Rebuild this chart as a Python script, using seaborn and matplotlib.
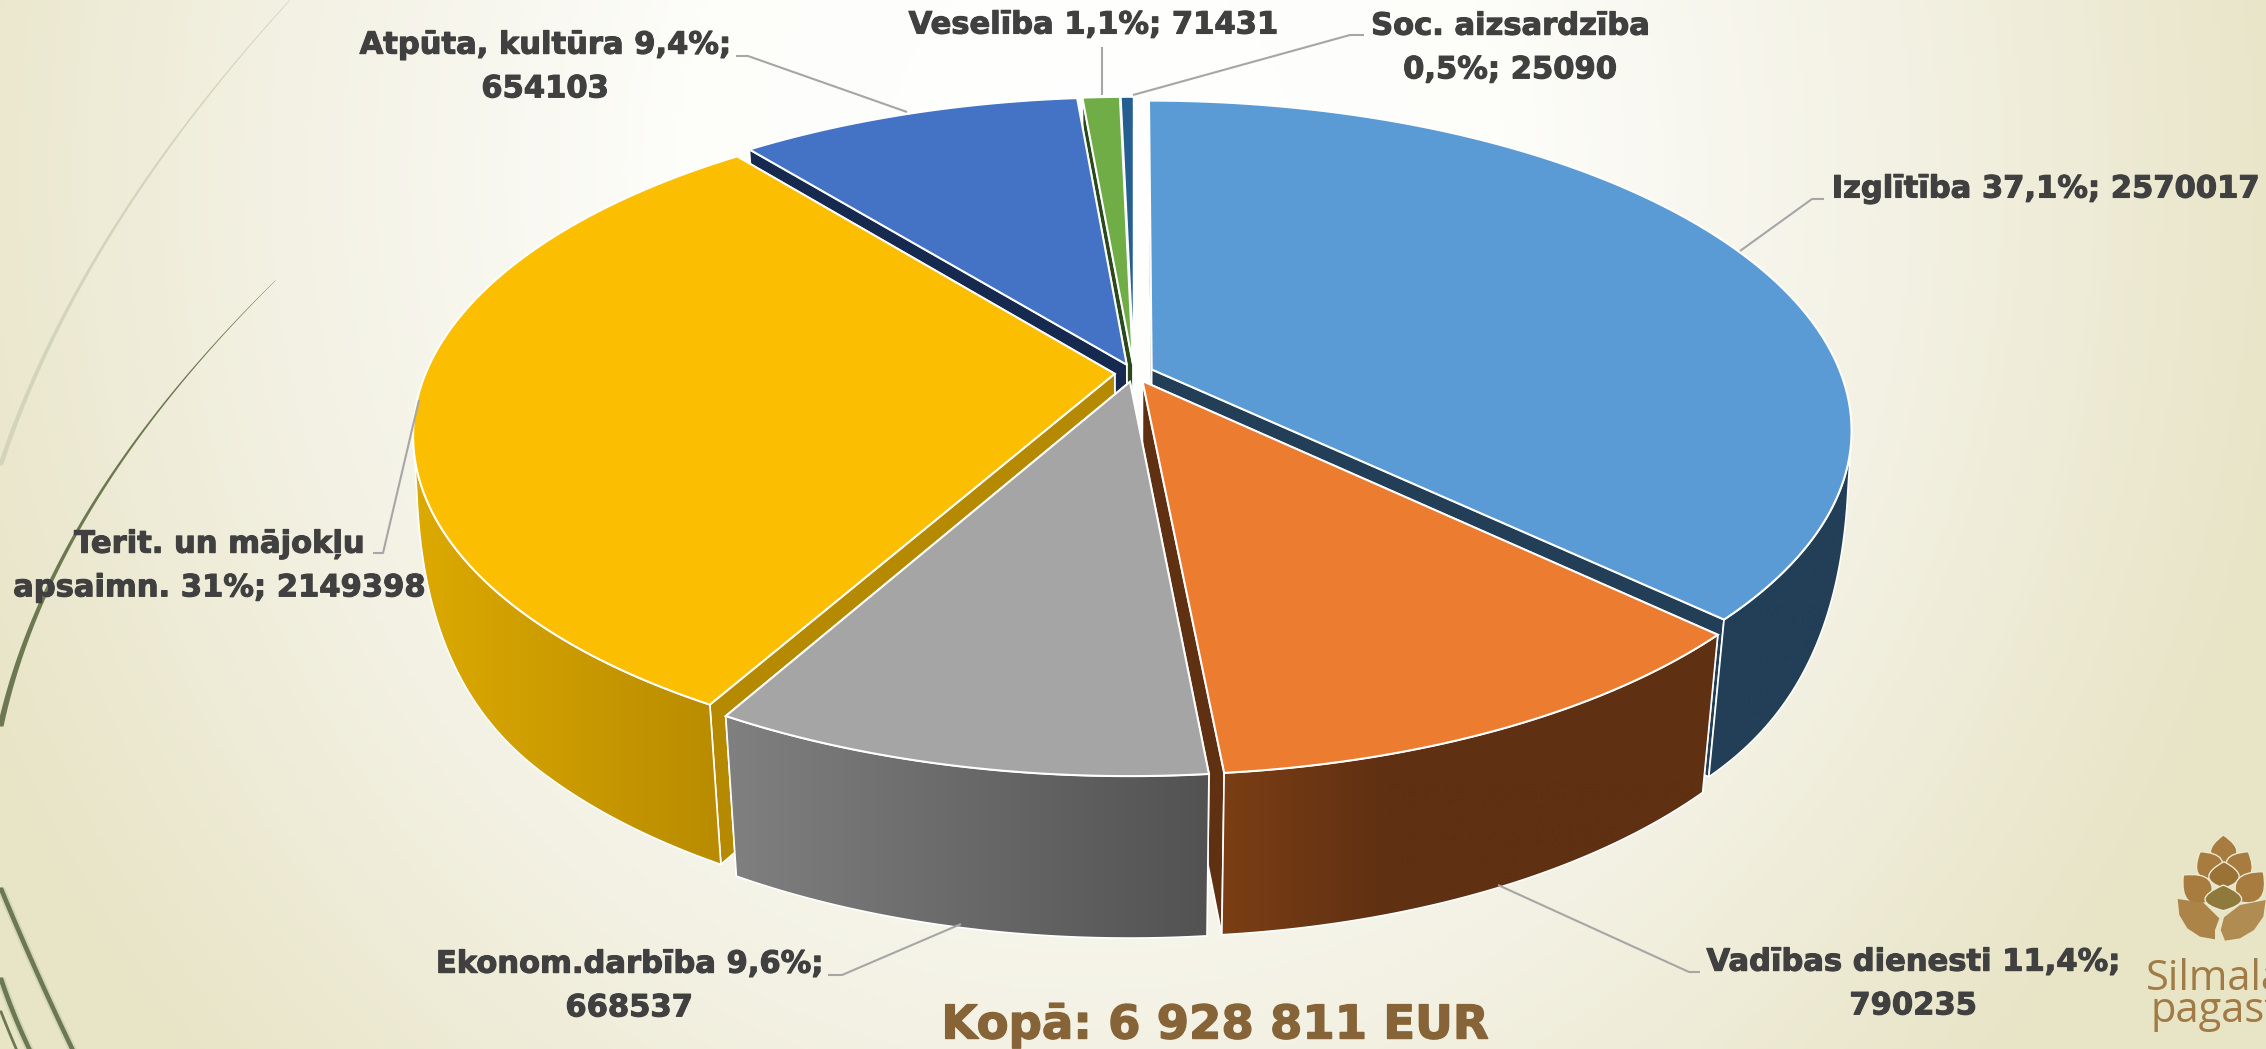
import numpy as np
import matplotlib
matplotlib.use("Agg")
import matplotlib.pyplot as plt
import matplotlib.patheffects as pe
from matplotlib.colors import LinearSegmentedColormap
from matplotlib.patches import Polygon, PathPatch
from matplotlib.path import Path
import seaborn as sns

# budget data
names = ["Izglītība", "Vadības dienesti", "Ekonom.darbība", "Terit. un mājokļu\napsaimn.",
         "Atpūta, kultūra", "Veselība", "Soc. aizsardzība\n"]
percents = ["37,1", "11,4", "9,6", "31", "9,4", "1,1", "0,5"]
values = [2570017, 790235, 668537, 2149398, 654103, 71431, 25090]
total_label = "Kopā: 6 928 811 EUR"

top_colors = ["#5b9bd5", "#ec7c30", "#a5a5a5", "#fbbe00", "#4472c4", "#70ad47", "#255e91"]
wall_colors = ["#223f57", "#5f3012", "#5a5a5a", "#b58900", "#16294f", "#2a4a1c", "#153a5c"]
rim_colors = [["#223f57", "#223f57"], ["#7b3e15", "#5f3012", "#5f3012", "#5f3012"],
              ["#808080", "#525252"], ["#dcaa00", "#b98b00"],
              ["#16294f", "#16294f"], ["#2a4a1c", "#2a4a1c"], ["#153a5c", "#153a5c"]]

# label layout: text centre, separator between percent and value
label_seps = ["; ", ";\n", ";\n", "; ", ";\n", "; ", "; "]
label_pos = [(2045, 189), (1913, 984), (629, 986), (219, 566), (545, 67), (1093, 25), (1510, 48)]
leaders = [[(1740, 251), (1812, 199), (1824, 199)],
           [(1498, 885), (1689, 972), (1700, 972)],
           [(961, 924), (842, 975), (828, 975)],
           [(419, 400), (383, 553), (373, 553)],
           [(907, 112), (748, 56), (736, 56)],
           [(1102, 95), (1102, 47)],
           [(1133, 95), (1350, 35), (1364, 35)]]

W, H = 2266, 1049
CX, CY = 1134, 373
A, B, K = 689, 319, 0.182

sns.set_theme(style="white")
plt.rcParams["font.family"] = ["DejaVu Sans"]

fig, ax = plt.subplots(figsize=(W / 100, H / 100), dpi=100)
fig.subplots_adjust(0, 0, 1, 1)

# pie gives the slice angles and exploded centres, they are then put in perspective
wedges, texts = ax.pie(values, explode=[0.028] * len(values), startangle=90, counterclock=False)
slices = [(w.theta1, w.theta2, w.center) for w in wedges]
for w in wedges:
    w.remove()
for t in texts:
    t.remove()
ax.set_aspect("auto")
ax.axis("off")


def project(u, v):
    w = 1 + K * v
    return CX + A * u / w, CY - B * v / w


def lower(x, y, v=-1.0):
    # bottom edge of the disc, its rim gets shallower towards the sides
    s = np.clip((-v - K) / 0.5, 0, 1)
    depth = 156 * (0.36 + 0.64 * (1 - (1 - s) ** 2))
    xs = 0.995 - 0.021 * s
    return CX + xs * (x - CX), y + depth + 0.03 * (y - 578) * s


# background
yy, xx = np.mgrid[0:H:4, 0:W:4]
r = np.sqrt(((xx - 1090) / 1230) ** 2 + ((yy - 170) / 1350) ** 2)
bg_cmap = LinearSegmentedColormap.from_list("bg", ["#ffffff", "#fdfdfa", "#f3f1e3", "#e8e4c6"])
ax.imshow(np.clip(r, 0, 1), cmap=bg_cmap, vmin=0, vmax=1, extent=[0, W, H, 0], aspect="auto", zorder=0)


def curve(pts, w0, w1, color, z=1):
    # decorative curved stem on the left
    pts = np.array(pts, dtype=float)
    ys = np.linspace(pts[:, 1].min(), pts[:, 1].max(), 120)
    xs = np.polyval(np.polyfit(pts[:, 1], pts[:, 0], 2), ys)
    ws = np.linspace(w0, w1, 120) / 2
    ax.fill_betweenx(ys, xs - ws, xs + ws, color=color, lw=0, zorder=z)


pale = "#d3d5bb"
dark = "#6b7850"
curve([(289, 0), (100, 250), (0, 465)], 1, 5, pale)
curve([(275, 280), (80, 525), (0, 726)], 0.5, 6, dark)
curve([(0, 887), (40, 980), (72, 1049)], 9, 9, pale)
curve([(0, 887), (40, 980), (72, 1049)], 5, 5, dark)
curve([(0, 977), (14, 1015), (29, 1049)], 9, 9, pale)
curve([(0, 977), (14, 1015), (29, 1049)], 5, 5, dark)
curve([(0, 1010), (8, 1030), (16, 1049)], 3, 3, dark)

# slices back to front
draw_order = [6, 5, 4, 3, 0, 1, 2]
z = 2
for i in draw_order:
    t1, t2, (ox, oy) = slices[i]
    angles = np.radians(np.linspace(t1, t2, 200))
    vs = oy + np.sin(angles)
    arc = np.array([project(ox + np.cos(a), oy + np.sin(a)) for a in angles])
    apex = np.array(project(ox, oy))
    apex_low = np.array(lower(*apex))

    # radial walls, the one nearer the viewer goes last
    for end in sorted((arc[0], arc[-1]), key=lambda p: p[1]):
        ax.add_patch(Polygon([apex, end, lower(*end), apex_low], closed=True, fc=wall_colors[i],
                             ec="white", lw=1.2, zorder=z))
        z += 1

    # outer rim with its horizontal gradient, only the part that faces the viewer
    front = vs < -K
    if front.sum() > 1:
        arc_front = arc[front]
        arc_low = np.array([lower(x, y, v) for (x, y), v in zip(arc_front, vs[front])])
        rim = np.vstack([arc_front, arc_low[::-1]])
        rim_patch = Polygon(rim, closed=True, fc="none", ec="white", lw=1.2, zorder=z + 1)
        ax.add_patch(rim_patch)
        cmap = LinearSegmentedColormap.from_list(f"rim{i}", rim_colors[i])
        im = ax.imshow(np.linspace(0, 1, 256).reshape(1, -1), cmap=cmap, aspect="auto", zorder=z,
                       extent=[rim[:, 0].min(), rim[:, 0].max(), rim[:, 1].max(), rim[:, 1].min()])
        im.set_clip_path(rim_patch)
    z += 2

    # top face
    ax.add_patch(Polygon(np.vstack([apex, arc]), closed=True, fc=top_colors[i], ec="white", lw=1.5, zorder=z))
    z += 1

# leader lines and labels
for pts in leaders:
    pts = np.array(pts)
    ax.plot(pts[:, 0], pts[:, 1], color="#a6a6a6", lw=1.5, zorder=z, solid_capstyle="butt")
z += 1
for name, pct, val, sep, (tx, ty) in zip(names, percents, values, label_seps, label_pos):
    ax.text(tx, ty, f"{name} {pct}%{sep}{val}".replace("\n ", "\n"), ha="center", va="center",
            ma="center", fontsize=22, fontweight="bold", color="#404040", linespacing=1.64, zorder=z,
            path_effects=[pe.withStroke(linewidth=0.8, foreground="#404040")])

ax.text(1215, 1026, total_label, ha="center", va="center", fontsize=33.5, fontweight="bold",
        color="#866437", zorder=z, path_effects=[pe.withStroke(linewidth=1.0, foreground="#866437")])


# logo in the corner
def leaf(tip, base, hw, color="#a87b3e"):
    tip, base = np.array(tip, float), np.array(base, float)
    d = base - tip
    n = np.array([-d[1], d[0]]) / np.hypot(*d) * hw
    mid = tip + d * 0.62
    verts = [tip, mid + n, base, base, mid - n, tip]
    codes = [Path.MOVETO, Path.CURVE3, Path.CURVE3, Path.LINETO, Path.CURVE3, Path.CURVE3]
    verts = [(2100 + p[0] / 3, 820 + p[1] / 3) for p in verts]
    ax.add_patch(PathPatch(Path(verts, codes), fc=color, ec="#ece9d3", lw=1.0, zorder=z))


leaf((370, 45), (372, 135), 80)
leaf((300, 95), (352, 175), 82)
leaf((445, 95), (395, 175), 82)
leaf((372, 125), (372, 205), 92, "#9a7236")
leaf((250, 165), (330, 245), 88)
leaf((490, 155), (415, 245), 88)
leaf((370, 195), (370, 272), 110, "#8f7a3c")
fan_left = [(233, 237), (238, 285), (262, 325), (300, 350), (345, 358), (345, 330), (358, 295), (310, 248)]
fan_right = [(497, 240), (490, 290), (462, 330), (420, 355), (375, 362), (362, 330), (372, 292), (420, 255)]
for pts, c in [(fan_left, "#ad8448"), (fan_right, "#b08b52")]:
    ax.add_patch(Polygon([(2100 + x / 3, 820 + y / 3) for x, y in pts], closed=True, fc=c, ec="none", zorder=z))
ax.text(2146, 990, "Silmalas", ha="left", va="baseline", fontsize=30, color="#a17b46",
        family=["Open Sans", "DejaVu Sans"], zorder=z)
ax.text(2151, 1022, "pagasts", ha="left", va="baseline", fontsize=30, color="#a17b46",
        family=["Open Sans", "DejaVu Sans"], zorder=z)

ax.set_xlim(0, W)
ax.set_ylim(H, 0)
fig.savefig("out.png", dpi=100)
